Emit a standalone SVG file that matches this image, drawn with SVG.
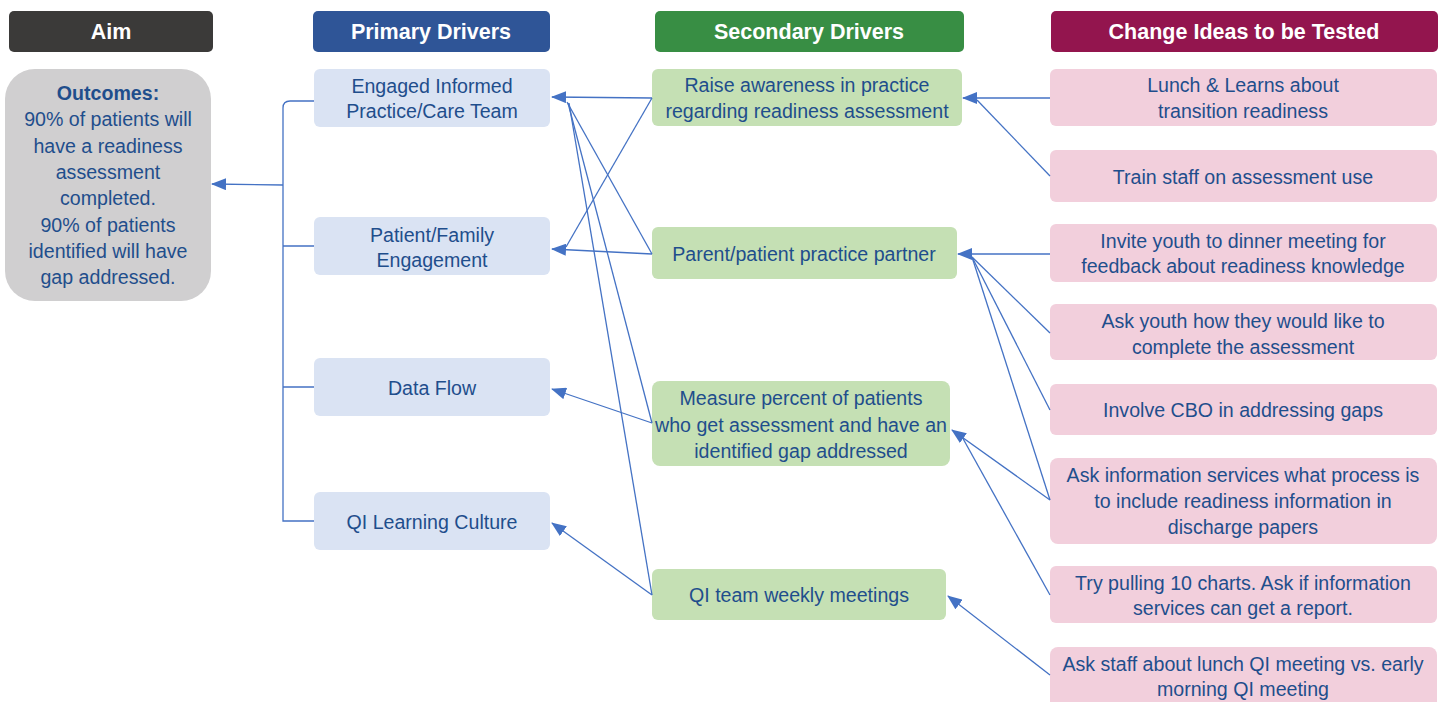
<svg xmlns="http://www.w3.org/2000/svg" width="1442" height="702" viewBox="0 0 1442 702">
<defs>
<marker id="ah" markerWidth="15" markerHeight="12" refX="14" refY="6" orient="auto" markerUnits="userSpaceOnUse">
<path d="M0,0 L15,6 L0,12 Z" fill="#4472c4"/>
</marker>
<style>
text{font-family:"Liberation Sans","Open Sans",sans-serif;text-anchor:middle}
.hd{font-size:21.5px;font-weight:bold;fill:#ffffff}
.t{font-size:19.6px;fill:#1f4e8c}
.b{font-weight:bold}
.pri{fill:#dae3f3}
.sec{fill:#c5e0b4}
.chg{fill:#f2cfdc}
.aim{fill:#d0cfd0}
.ln{stroke:#4472c4;stroke-width:1.3;fill:none}
.ar{marker-end:url(#ah)}
</style>
</defs>
<rect width="1442" height="702" fill="#ffffff"/>

<g id="hdr-aim"><rect x="9" y="11" width="204" height="41" rx="5" fill="#3b3a39"/><text class="hd" x="111" y="39">Aim</text></g>
<g id="hdr-primary"><rect x="313" y="11" width="237" height="41" rx="5" fill="#2f5597"/><text class="hd" x="431" y="39">Primary Drivers</text></g>
<g id="hdr-secondary"><rect x="655" y="11" width="309" height="41" rx="5" fill="#388e44"/><text class="hd" x="809" y="39">Secondary Drivers</text></g>
<g id="hdr-change"><rect x="1051" y="11" width="387" height="41" rx="5" fill="#93154e"/><text class="hd" x="1244" y="39">Change Ideas to be Tested</text></g>

<g id="aim"><rect class="aim" x="5" y="69" width="206" height="232" rx="30"/>
<text class="t" x="108"><tspan x="108" y="100" class="b">Outcomes:</tspan><tspan x="108" y="126">90% of patients will</tspan><tspan x="108" y="153">have a readiness</tspan><tspan x="108" y="179">assessment</tspan><tspan x="108" y="205">completed.</tspan><tspan x="108" y="232">90% of patients</tspan><tspan x="108" y="258">identified will have</tspan><tspan x="108" y="284">gap addressed.</tspan></text></g>

<g id="p1"><rect class="pri" x="314" y="69" width="236" height="58" rx="6"/><text class="t"><tspan x="432" y="93">Engaged Informed</tspan><tspan x="432" y="118">Practice/Care Team</tspan></text></g>
<g id="p2"><rect class="pri" x="314" y="217" width="236" height="58" rx="6"/><text class="t"><tspan x="432" y="242">Patient/Family</tspan><tspan x="432" y="267">Engagement</tspan></text></g>
<g id="p3"><rect class="pri" x="314" y="358" width="236" height="58" rx="6"/><text class="t" x="432" y="395">Data Flow</text></g>
<g id="p4"><rect class="pri" x="314" y="492" width="236" height="58" rx="6"/><text class="t" x="432" y="529">QI Learning Culture</text></g>

<g id="s1"><rect class="sec" x="652" y="69" width="310" height="57" rx="6"/><text class="t"><tspan x="807" y="92">Raise awareness in practice</tspan><tspan x="807" y="118">regarding readiness assessment</tspan></text></g>
<g id="s2"><rect class="sec" x="652" y="227" width="305" height="52" rx="6"/><text class="t" x="804" y="261">Parent/patient practice partner</text></g>
<g id="s3"><rect class="sec" x="652" y="381" width="298" height="85" rx="8"/><text class="t"><tspan x="801" y="405">Measure percent of patients</tspan><tspan x="801" y="432">who get assessment and have an</tspan><tspan x="801" y="458">identified gap addressed</tspan></text></g>
<g id="s4"><rect class="sec" x="652" y="569" width="294" height="51" rx="6"/><text class="t" x="799" y="602">QI team weekly meetings</text></g>

<g id="c1"><rect class="chg" x="1050" y="69" width="387" height="57" rx="6"/><text class="t"><tspan x="1243" y="92">Lunch &amp; Learns about</tspan><tspan x="1243" y="118">transition readiness</tspan></text></g>
<g id="c2"><rect class="chg" x="1050" y="150" width="387" height="52" rx="6"/><text class="t" x="1243" y="184">Train staff on assessment use</text></g>
<g id="c3"><rect class="chg" x="1050" y="224" width="387" height="58" rx="6"/><text class="t"><tspan x="1243" y="248">Invite youth to dinner meeting for</tspan><tspan x="1243" y="273">feedback about readiness knowledge</tspan></text></g>
<g id="c4"><rect class="chg" x="1050" y="304" width="387" height="56" rx="6"/><text class="t"><tspan x="1243" y="328">Ask youth how they would like to</tspan><tspan x="1243" y="354">complete the assessment</tspan></text></g>
<g id="c5"><rect class="chg" x="1050" y="384" width="387" height="51" rx="6"/><text class="t" x="1243" y="417">Involve CBO in addressing gaps</text></g>
<g id="c6"><rect class="chg" x="1050" y="458" width="387" height="86" rx="8"/><text class="t"><tspan x="1243" y="482">Ask information services what process is</tspan><tspan x="1243" y="508">to include readiness information in</tspan><tspan x="1243" y="534">discharge papers</tspan></text></g>
<g id="c7"><rect class="chg" x="1050" y="566" width="387" height="57" rx="6"/><text class="t"><tspan x="1243" y="590">Try pulling 10 charts. Ask if information</tspan><tspan x="1243" y="615">services can get a report.</tspan></text></g>
<g id="c8"><rect class="chg" x="1050" y="647" width="387" height="70" rx="8"/><text class="t"><tspan x="1243" y="671">Ask staff about lunch QI meeting vs. early</tspan><tspan x="1243" y="696">morning QI meeting</tspan></text></g>

<g id="connectors">
<path class="ln" d="M314,101 L290,101 Q283,101 283,108 L283,521 L314,521 M283,246 L314,246 M283,387 L314,387"/>
<line class="ln ar" x1="283" y1="185" x2="212" y2="184"/>

<line class="ln ar" x1="652" y1="98" x2="552" y2="97"/>
<line class="ln" x1="652" y1="98" x2="566" y2="247"/>
<line class="ln" x1="652" y1="254" x2="567" y2="102"/>
<line class="ln ar" x1="652" y1="254" x2="552" y2="249"/>
<line class="ln" x1="652" y1="423" x2="568" y2="103"/>
<line class="ln ar" x1="652" y1="423" x2="552" y2="389"/>
<line class="ln" x1="652" y1="595" x2="569" y2="103"/>
<line class="ln ar" x1="652" y1="595" x2="552" y2="523"/>

<line class="ln ar" x1="1050" y1="98" x2="963" y2="98"/>
<line class="ln" x1="1050" y1="176" x2="977" y2="100"/>
<line class="ln ar" x1="1050" y1="254" x2="958" y2="254"/>
<line class="ln" x1="1050" y1="333" x2="972" y2="257"/>
<line class="ln" x1="1050" y1="410" x2="972" y2="257"/>
<line class="ln" x1="1050" y1="500" x2="972" y2="257"/>
<line class="ln ar" x1="1050" y1="500" x2="952" y2="430"/>
<line class="ln" x1="1050" y1="595" x2="961" y2="435"/>
<line class="ln ar" x1="1050" y1="675" x2="948" y2="596"/>
</g>
</svg>
